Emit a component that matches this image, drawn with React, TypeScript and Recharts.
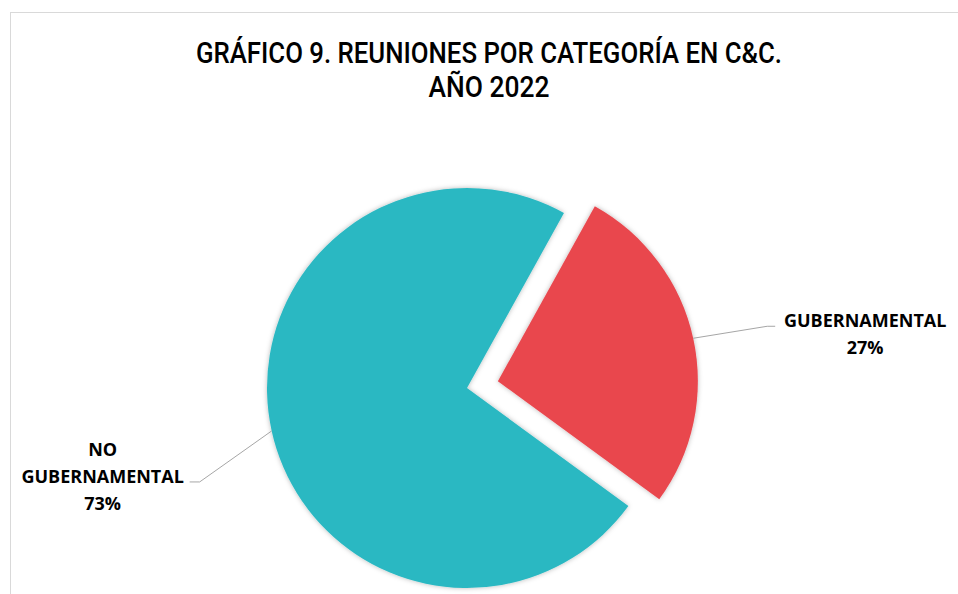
import { PieChart, Pie, Cell } from 'recharts';

// Reuniones por categoría, año 2022 (porcentaje)
const CATEGORIES = ['GUBERNAMENTAL', 'NO GUBERNAMENTAL'];
const SHARES = [27, 73];
const LABEL_LINES = [['GUBERNAMENTAL'], ['NO', 'GUBERNAMENTAL']];
const TITLE_LINES = ['GRÁFICO 9. REUNIONES POR CATEGORÍA EN C&C.', 'AÑO 2022'];

const COLORS = ['#E9474E', '#2CB8C2'];
const LEADER = '#A6A6A6';

const W = 958;
const H = 594;
const CX = 467;
const CY = 388;
const R = 200;
const START = 61;
const EXPLODE = 31.6;
const RADIAN = Math.PI / 180;

// elbow offset from slice edge, then horizontal run (sign = side)
const LABEL_OFFSETS = [
  { dx: 74, dy: -12, run: 8 },
  { dx: -72, dy: 51, run: -10 },
];

const data = CATEGORIES.map((name, i) => ({ name, value: SHARES[i] }));
const total = SHARES.reduce((a, b) => a + b, 0);

// mid angle of the exploded slice (first one)
const midFirst = START - (SHARES[0] / total) * 180;
const CX2 = CX + EXPLODE * Math.cos(midFirst * RADIAN);
const CY2 = CY - EXPLODE * Math.sin(midFirst * RADIAN);

const labelFont = { fontFamily: '"Open Sans", sans-serif', fontWeight: 700, fontSize: 18, fill: '#000' };
const titleFont = { fontFamily: 'Roboto, sans-serif', fontWeight: 500, fontSize: 30, fill: '#000' };

function makeLabel(show: number) {
  return (props: any) => {
    const { cx, cy, midAngle, outerRadius, percent, index } = props;
    if (index !== show) return null;
    const sx = cx + outerRadius * Math.cos(-midAngle * RADIAN);
    const sy = cy + outerRadius * Math.sin(-midAngle * RADIAN);
    const off = LABEL_OFFSETS[index];
    const ex = sx + off.dx;
    const ey = sy + off.dy;
    const lx = ex + off.run;
    const right = off.run > 0;
    const tx = right ? lx + 90 : lx - 87;
    const lines = [...LABEL_LINES[index], `${Math.round(percent * 100)}%`];
    const lead = right ? 0 : 1;
    const firstBase = ey + 0.5 - lead * 26.5;
    return (
      <g>
        <polyline points={`${sx},${sy} ${ex},${ey} ${lx},${ey}`} fill="none" stroke={LEADER} strokeWidth={1} />
        <text x={tx} y={firstBase} textAnchor="middle" style={labelFont}>
          {lines.map((t, k) => (
            <tspan key={k} x={tx} dy={k === 0 ? 0 : 26.8}>{t}</tspan>
          ))}
        </text>
      </g>
    );
  };
}

export default function App() {
  return (
    <div style={{ position: 'absolute', left: 0, top: 0, width: W, height: H, background: '#fff', overflow: 'hidden' }}>
      <div style={{ position: 'absolute', left: 10, top: 12, width: W, height: H, border: '1px solid #D9D9D9' }} />
      <div style={{ position: 'absolute', left: 0, top: 0 }}>
        <PieChart width={W} height={H} margin={{ top: 0, right: 0, bottom: 0, left: 0 }}>
          <defs>
            <filter id="sliceShadow" x="-20%" y="-20%" width="140%" height="140%">
              <feDropShadow dx="0" dy="0" stdDeviation="2.5" floodColor="#000" floodOpacity="0.28" />
            </filter>
          </defs>
          <text x={489} y={63} textAnchor="middle" textLength={586} lengthAdjust="spacingAndGlyphs" style={titleFont}>
            {TITLE_LINES[0]}
          </text>
          <text x={489} y={97} textAnchor="middle" textLength={121} lengthAdjust="spacingAndGlyphs" style={titleFont}>
            {TITLE_LINES[1]}
          </text>
          <Pie
            data={data}
            dataKey="value"
            nameKey="name"
            cx={CX}
            cy={CY}
            outerRadius={R}
            startAngle={START}
            endAngle={START - 360}
            stroke="none"
            isAnimationActive={false}
            labelLine={false}
            label={makeLabel(1)}
          >
            {data.map((d, i) => (
              <Cell key={d.name} fill={i === 1 ? COLORS[i] : 'none'} filter={i === 1 ? 'url(#sliceShadow)' : undefined} />
            ))}
          </Pie>
          <Pie
            data={data}
            dataKey="value"
            nameKey="name"
            cx={CX2}
            cy={CY2}
            outerRadius={R}
            startAngle={START}
            endAngle={START - 360}
            stroke="none"
            isAnimationActive={false}
            labelLine={false}
            label={makeLabel(0)}
          >
            {data.map((d, i) => (
              <Cell key={d.name} fill={i === 0 ? COLORS[i] : 'none'} filter={i === 0 ? 'url(#sliceShadow)' : undefined} />
            ))}
          </Pie>
        </PieChart>
      </div>
    </div>
  );
}
